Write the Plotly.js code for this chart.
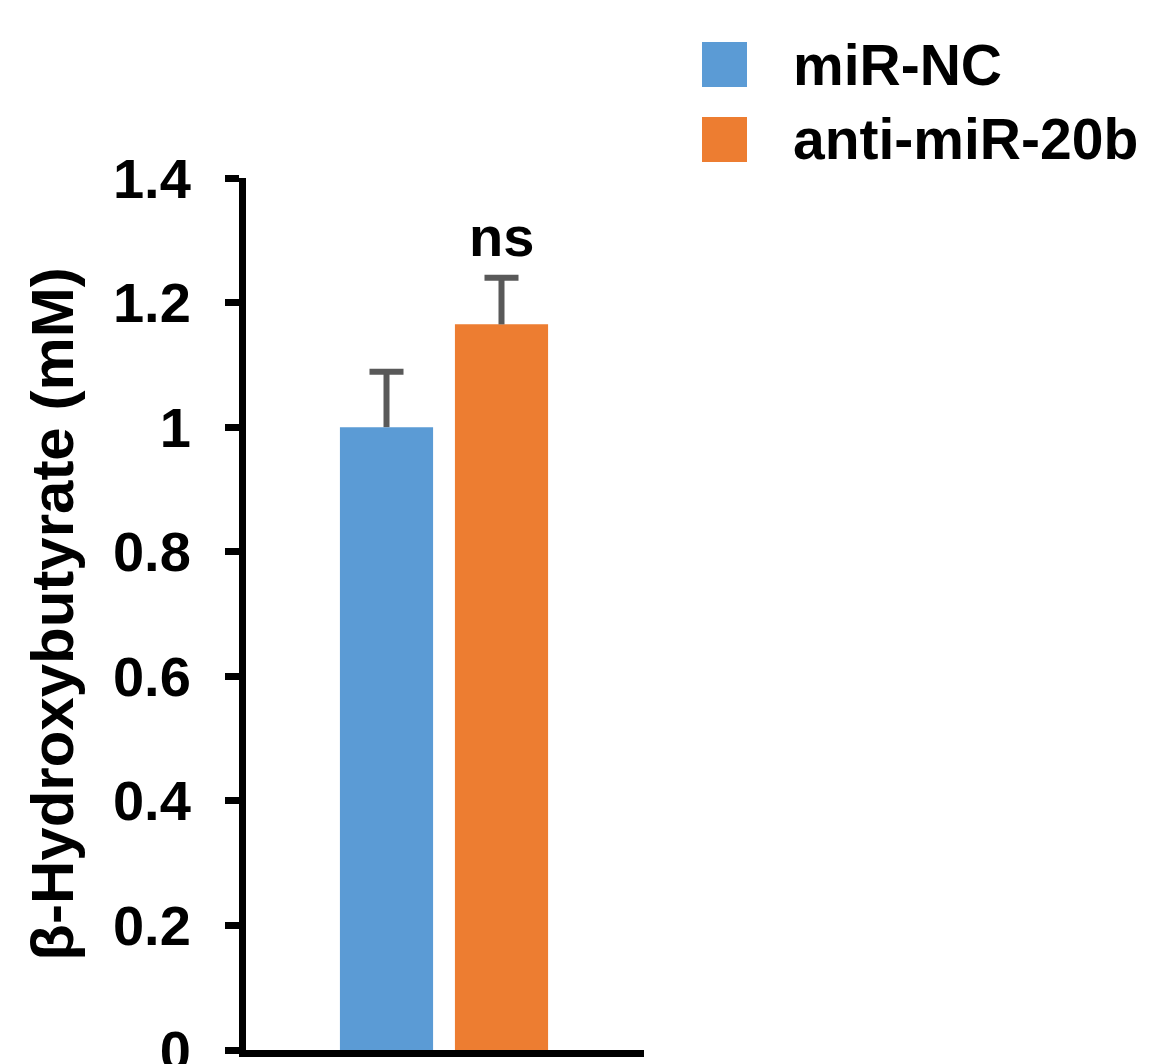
<!DOCTYPE html>
<html>
<head>
<meta charset="utf-8">
<script src="https://cdn.plot.ly/plotly-3.0.1.min.js"></script>
<style>html,body{margin:0;padding:0;background:#fff;}#chart{width:1157px;height:1064px;}</style>
</head>
<body>
<div id="chart"></div>
<script>
// Data
const groups = ['miR-NC', 'anti-miR-20b'];
const means = [1.0, 1.165];
const errors = [0.089, 0.075];
const colors = ['#5B9BD5', '#ED7D31'];
const significance = 'ns';
const yTickVals = [0, 0.2, 0.4, 0.6, 0.8, 1.0, 1.2, 1.4];
const yTitle = 'β-Hydroxybutyrate (mM)';

const W = 1157, H = 1064;
const M = {l: 246, r: 513, t: 178, b: 14};
const pw = W - M.l - M.r, ph = H - M.t - M.b;
const px2x = p => (p - M.l) / pw;
const py2y = p => (H - M.b - p) / ph;
// x scale: 115 px per bar slot, first bar centred at 386 px
const PXU = 115, C0 = 386.5;
const xRange = [(M.l - C0) / PXU, (W - M.r - C0) / PXU];
const capHalf = 17 / PXU;

const FONT = 'Arial, "Liberation Sans", sans-serif';

const traces = groups.map((g, i) => ({
  type: 'bar',
  name: g,
  x: [i],
  y: [means[i]],
  width: 0.81,
  marker: {color: colors[i], line: {width: 0}},
  showlegend: false,
  hoverinfo: 'skip'
}));
// error bars (upper only, T-shaped)
traces.push({
  type: 'scatter', mode: 'markers',
  x: groups.map((g, i) => i),
  y: means.map((m, i) => m + errors[i]),
  marker: {size: 1, color: 'rgba(0,0,0,0)'},
  error_y: {type: 'data', symmetric: false, array: errors.map(() => 0), arrayminus: errors,
            visible: true, color: '#595959', thickness: 6, width: 0},
  error_x: {type: 'constant', value: capHalf, visible: true, color: '#595959', thickness: 6, width: 0},
  showlegend: false, hoverinfo: 'skip'
});

const shapes = [];
const annotations = [];
// legend
const legTop = [42, 117];
groups.forEach((g, i) => {
  shapes.push({type: 'rect', xref: 'paper', yref: 'paper',
    x0: px2x(702), x1: px2x(747), y0: py2y(legTop[i] + 45), y1: py2y(legTop[i]),
    fillcolor: colors[i], line: {width: 0}});
  annotations.push({xref: 'paper', yref: 'paper', x: px2x(791), y: py2y(legTop[i] + 22.5),
    xanchor: 'left', yanchor: 'middle', showarrow: false, text: g,
    font: {family: FONT, size: 57, color: '#000', weight: 'bold'}});
});
// significance label
annotations.push({xref: 'x', yref: 'y', x: 1, y: means[1] + errors[1], yanchor: 'bottom',
  xanchor: 'center', showarrow: false, text: significance, yshift: 8,
  font: {family: FONT, size: 56, color: '#000', weight: 'bold'}});

const layout = {
  width: W, height: H,
  margin: M,
  paper_bgcolor: '#fff', plot_bgcolor: '#fff',
  barmode: 'overlay',
  font: {family: FONT, color: '#000'},
  xaxis: {range: xRange, showticklabels: false, ticks: '',
          showgrid: false, zeroline: false, showline: true, linecolor: '#000', linewidth: 7,
          fixedrange: true},
  yaxis: {range: [0, 1.4], tickvals: yTickVals, ticks: 'outside', ticklen: 14, tickwidth: 7,
          tickcolor: '#000', showgrid: false, zeroline: false, showline: true,
          linecolor: '#000', linewidth: 7, ticklabelstandoff: 23, ticklabeloverflow: 'allow',
          tickfont: {family: FONT, size: 56, color: '#000', weight: 'bold'},
          title: {text: yTitle, standoff: 22,
                  font: {family: FONT, size: 60, color: '#000', weight: 'bold'}},
          fixedrange: true},
  shapes: shapes,
  annotations: annotations,
  showlegend: false
};

Plotly.newPlot('chart', traces, layout, {displayModeBar: false, staticPlot: true});
</script>
</body>
</html>
